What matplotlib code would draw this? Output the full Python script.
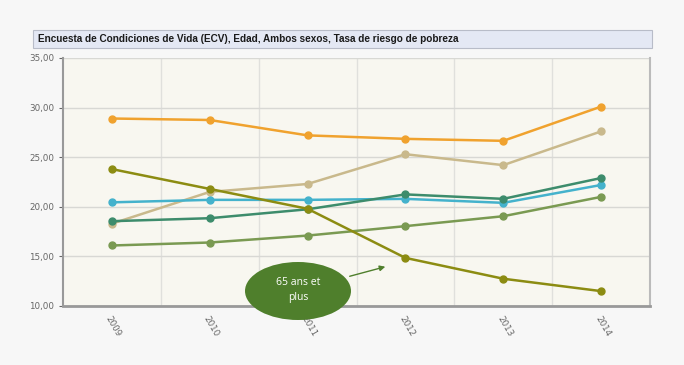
import matplotlib
matplotlib.use("Agg")
import matplotlib.pyplot as plt
from matplotlib.patches import Ellipse, Rectangle, FancyArrowPatch

years = ["2009", "2010", "2011", "2012", "2013", "2014"]
s_orange = [28.9, 28.75, 27.2, 26.85, 26.65, 30.1]
s_tan = [18.3, 21.5, 22.3, 25.3, 24.2, 27.6]
s_cyan = [20.45, 20.7, 20.7, 20.8, 20.4, 22.2]
s_teal = [18.55, 18.85, 19.75, 21.25, 20.8, 22.9]
s_green = [16.1, 16.4, 17.1, 18.05, 19.05, 21.0]
s_olive = [23.8, 21.8, 19.8, 14.85, 12.75, 11.5]
yticks = [10, 15, 20, 25, 30, 35]
ytick_labels = ["10,00", "15,00", "20,00", "25,00", "30,00", "35,00"]
title = "Encuesta de Condiciones de Vida (ECV), Edad, Ambos sexos, Tasa de riesgo de pobreza"
note = "65 ans et\nplus"

W, H = 684, 365
fig = plt.figure(figsize=(W / 100, H / 100), dpi=100)
fig.patch.set_facecolor("#f7f7f7")

def fx(px):
    return px / W

def fy(py):
    return 1 - py / H

# title bar
bar = Rectangle((fx(33), fy(48)), fx(652) - fx(33), fy(30) - fy(48), transform=fig.transFigure,
                facecolor="#e4e8f4", edgecolor="#b8bcc8", linewidth=0.8)
fig.add_artist(bar)
fig.text(fx(38), fy(39), title, fontsize=7.2, fontweight="bold", family=["Liberation Sans", "DejaVu Sans"],
         va="center", ha="left", color="#1a1a1a")

ax = fig.add_axes([fx(63), fy(306), fx(650) - fx(63), fy(58) - fy(306)])
ax.set_facecolor("#f8f7f0")
x = list(range(len(years)))

series = [
    (s_green, "#7a9a52"),
    (s_tan, "#c9b98c"),
    (s_cyan, "#44b2cc"),
    (s_teal, "#3d8c6c"),
    (s_orange, "#f0a22e"),
    (s_olive, "#8c8c12"),
]
for vals, col in series:
    ax.plot(x, vals, color=col, lw=1.8, marker="o", ms=5, mec=col, mfc=col, zorder=3)

ax.set_xlim(-0.5, len(years) - 0.5)
ax.set_ylim(10, 35)
ax.set_yticks(yticks)
ax.set_yticklabels(ytick_labels)
ax.set_xticks(x)
ax.set_xticklabels(years, rotation=-60, ha="left", va="top", rotation_mode="anchor")
ax.set_xticks([i + 0.5 for i in range(len(years) - 1)], minor=True)
ax.grid(axis="y", color="#d8d8d4", lw=1.0)
ax.grid(axis="x", which="minor", color="#e0e0dc", lw=1.0)
ax.set_axisbelow(True)
ax.tick_params(axis="both", which="major", labelsize=6.3, colors="#666666", length=3, width=0.8)
ax.tick_params(axis="x", which="major", length=0, pad=6)
ax.tick_params(axis="x", which="minor", length=0)
ax.spines["top"].set_visible(False)
ax.spines["left"].set_color("#999999")
ax.spines["left"].set_linewidth(1.5)
ax.spines["bottom"].set_color("#999999")
ax.spines["bottom"].set_linewidth(2.0)
ax.spines["right"].set_color("#bbbbbb")
ax.spines["right"].set_linewidth(1.5)

# annotation bubble
ell = Ellipse((fx(298), fy(291)), fx(106), 58 / H, transform=fig.transFigure,
              facecolor="#4f7f2c", edgecolor="none", zorder=10)
fig.add_artist(ell)
fig.text(fx(298), fy(290), note, color="white", fontsize=7.5, ha="center", va="center",
         family=["Open Sans", "DejaVu Sans"], linespacing=1.5, zorder=11)
arr = FancyArrowPatch((fx(347), fy(277)), (fx(388), fy(266)), transform=fig.transFigure,
                      arrowstyle="-|>", mutation_scale=8, color="#4f7f2c", lw=1.0, zorder=10)
fig.add_artist(arr)

fig.savefig("out.png", dpi=100, facecolor=fig.get_facecolor())
